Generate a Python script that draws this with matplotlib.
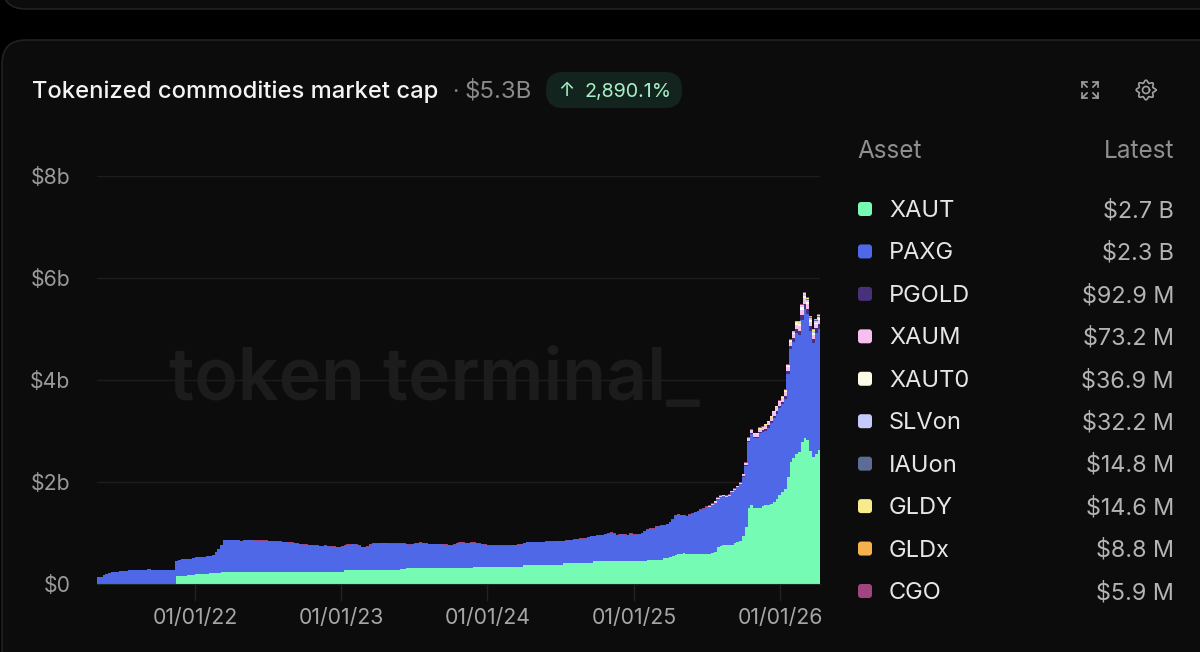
import numpy as np
import pandas as pd
import matplotlib
matplotlib.use('Agg')
import matplotlib.pyplot as plt
import matplotlib.dates as mdates
from matplotlib.patches import FancyBboxPatch

plt.rcParams['font.family'] = ['Inter', 'DejaVu Sans']

# Legend table
assets = ['XAUT', 'PAXG', 'PGOLD', 'XAUM', 'XAUT0', 'SLVon', 'IAUon', 'GLDY', 'GLDx', 'CGO']
latest = ['$2.7 B', '$2.3 B', '$92.9 M', '$73.2 M', '$36.9 M', '$32.2 M', '$14.8 M', '$14.6 M', '$8.8 M', '$5.9 M']
colors = ['#76FBB4', '#4F68E8', '#46317A', '#F6BFF0', '#FBFBE6', '#C4CBFB', '#5D6C94', '#F8EB8C', '#F6B14F', '#A04580']

# Weekly values in $b
weeks = pd.date_range('2021-05-01', periods=258, freq='7D')

total_top = [
    .13, .13, .17, .2, .22, .24, .24, .24, .25, .25,
    .25, .27, .27, .27, .27, .27, .27, .27, .29, .28,
    .27, .27, .27, .27, .27, .27, .27, .27, .46, .47,
    .5, .5, .5, .5, .51, .52, .52, .53, .53, .54,
    .55, .57, .62, .69, .76, .86, .86, .86, .86, .86,
    .86, .85, .86, .86, .86, .86, .86, .86, .86, .86,
    .86, .85, .85, .84, .84, .84, .83, .83, .82, .82,
    .81, .8, .79, .78, .78, .77, .77, .76, .76, .75,
    .75, .76, .75, .74, .74, .73, .73, .74, .76, .78,
    .78, .79, .78, .76, .73, .73, .74, .78, .8, .8,
    .81, .81, .81, .81, .8, .8, .8, .8, .8, .8,
    .79, .78, .79, .8, .81, .82, .81, .8, .79, .79,
    .79, .79, .79, .78, .78, .77, .76, .78, .81, .82,
    .82, .81, .81, .82, .82, .81, .8, .79, .78, .77,
    .765, .76, .76, .76, .76, .76, .76, .76, .77, .77,
    .78, .79, .81, .83, .83, .83, .83, .83, .83, .83,
    .84, .84, .84, .85, .85, .85, .85, .86, .87, .87,
    .88, .89, .9, .9, .91, .93, .95, .95, .96, .97,
    .97, .99, 1.0, 1.02, 1.0, .97, .98, .99, .98, .97,
    1.0, .98, .98, .99, 1.0, 1.04, 1.08, 1.09, 1.1, 1.13,
    1.14, 1.15, 1.16, 1.18, 1.22, 1.27, 1.35, 1.37, 1.36, 1.36,
    1.34, 1.37, 1.39, 1.42, 1.44, 1.47, 1.49, 1.52, 1.55, 1.58,
    1.63, 1.7, 1.745, 1.75, 1.74, 1.76, 1.83, 1.88, 1.93, 2.0,
    2.16, 2.39, 2.88, 3.04, 2.97, 2.97, 3.07, 3.1, 3.14, 3.2,
    3.3, 3.4, 3.5, 3.6, 3.69, 3.82, 4.31, 4.8, 4.97, 5.16,
    5.16, 5.49, 5.72, 5.62, 5.26, 5.0, 5.2, 5.29,
]

xaut = (
    [0] * 28 + [.15, .15, .16, .16, .17, .175, .18, .19, .19, .2, .2, .2]
    + [.21, .21, .21, .22, .23, .23, .23, .23, .23, .23]
    + [.23] * 38 + [.275] * 20 + [.295, .3, .31, .31] + [.31] * 22
    + [.34, .34, .33, .34] + [.34] * 14 + [.37] * 14 + [.41] * 11 + [.445] * 19
    + [.48] * 6 + [.51, .51, .52, .55, .57]
    + [.58, .59, .6, .58, .59, .59, .59, .59, .59, .59, .59, .59, .6]
    + [.62, .72, .75, .765, .765, .765, .765, .8, .82, .84]
    + [.95, 1.11, 1.5, 1.54, 1.49, 1.49, 1.5, 1.52, 1.54, 1.55]
    + [1.57, 1.6, 1.67, 1.745, 1.8, 1.86, 2.09, 2.39, 2.48, 2.55]
    + [2.58, 2.78, 2.86, 2.83, 2.61, 2.5, 2.55, 2.63]
)

# smaller assets, only the last weeks are listed
pgold = [.01, .01, .02, .03, .03, .03, .03, .03, .04, .04, .04, .04, .05, .05,
         .05, .06, .07, .07, .08, .08, .09, .1, .11, .1, .09, .08, .09, .093]
xaum = [.02] * 11 + [.03, .04, .05] + [.06] * 6 + [.07] * 7 + [.08] * 5 + [.09, .1, .1, .09, .08, .07, .07, .073]
xaut0 = [.005, .01, .01, .01, .015, .02, .02, .02, .025, .03, .04, .05, .05, .05, .04, .04, .035, .037]
slvon = [.01, .01, .02, .02, .03, .04, .04, .035, .03, .032]
iauon = [.005, .01, .01, .015, .015, .015, .015, .015]
gldy = [.01] * 12 + [.015] * 12
gldx = [.005] * 6 + [.01] * 10
cgo = [.012] * 190 + [.01] * 6 + [.006] * 6


def pad(tail):
    return np.r_[np.zeros(len(weeks) - len(tail)), tail]


small = [pad(pgold), pad(xaum), pad(xaut0), pad(slvon), pad(iauon), pad(gldy), pad(gldx), pad(cgo)]
paxg = np.array(total_top) - np.array(xaut) - np.sum(small, axis=0)
series = [np.array(xaut, dtype=float), paxg] + small

fig = plt.figure(figsize=(12, 6.52), dpi=100, facecolor='#000000')

# page furniture, in pixels
bg = fig.add_axes([0, 0, 1, 1], zorder=0)
bg.set_xlim(0, 1200)
bg.set_ylim(652, 0)
bg.axis('off')
for y0, y1 in [(-80, 9), (40, 760)]:
    bg.add_patch(FancyBboxPatch((2, y0), 1260, y1 - y0, boxstyle='round,pad=0,rounding_size=24',
                                fc='#0c0c0c', ec='#222222', lw=1.2))
bg.set_xlim(0, 1200)
bg.set_ylim(652, 0)

bg.text(32, 91.5, 'Tokenized commodities market cap', color='#f4f4f4', fontsize=17.1, va='center', fontweight='medium')
bg.text(452, 91.5, '·', color='#8a8a8a', fontsize=16, va='center')
bg.text(464, 91.5, '$5.3B', color='#8a8a8a', fontsize=17.3, va='center')
bg.add_patch(FancyBboxPatch((546, 72), 136, 36, boxstyle='round,pad=0,rounding_size=17',
                            fc='#12241d', ec='none'))
bg.text(558, 91, '↑', color='#a8f0c8', fontsize=14, va='center')
bg.text(585, 91.5, '2,890.1%', color='#a8f0c8', fontsize=14.2, va='center')

# expand icon
icon = '#a0a0a0'
for sx, sy in [(-1, -1), (1, -1), (-1, 1), (1, 1)]:
    cx, cy = 1090 + sx * 8, 90 + sy * 8
    bg.plot([cx, cx, cx - sx * 5], [cy - sy * 5, cy, cy], color=icon, lw=1.2)
    bg.plot([cx, cx - sx * 5], [cy, cy - sy * 5], color=icon, lw=1.2)

# gear icon
ang = np.linspace(0, 2 * np.pi, 200)
rad = 8.5 + 1.3 * np.cos(8 * ang)
bg.plot(1146 + rad * np.cos(ang), 90 + rad * np.sin(ang), color=icon, lw=1.2)
bg.plot(1146 + 3.5 * np.cos(ang), 90 + 3.5 * np.sin(ang), color=icon, lw=1.2)

# legend table
bg.text(857, 152, 'Asset', color='#8f8f8f', fontsize=17.5, va='center')
bg.text(1174, 152, 'Latest', color='#8f8f8f', fontsize=17.5, va='center', ha='right')
row_y = np.linspace(209, 591, len(assets))
for name, val, col, y in zip(assets, latest, colors, row_y):
    bg.add_patch(FancyBboxPatch((858, y - 7), 14, 14, boxstyle='round,pad=0,rounding_size=3', fc=col, ec='none'))
    bg.text(889, y + 2, name, color='#e6e6e6', fontsize=17, va='center')
    bg.text(1174, y + 2, val, color='#b4b4b4', fontsize=16.8, va='center', ha='right')

# watermark goes under the bars
bg.text(169, 381, 'token terminal_', color='#1c1c1c', fontsize=51.5, va='center', fontweight='semibold')

# chart
ax = fig.add_axes([97 / 1200, (652 - 584) / 652, (820 - 97) / 1200, (584 - 176) / 652], zorder=1)
ax.patch.set_alpha(0)
bottom = np.zeros(len(weeks))
for values, col in zip(series, colors):
    ax.bar(weeks, values, bottom=bottom, width=8, align='edge', color=col, linewidth=0)
    bottom = bottom + values

ax.set_xlim(weeks[0], weeks[-1] + pd.Timedelta(days=7))
ax.set_ylim(0, 8)
ax.set_yticks([0, 2, 4, 6, 8])
ax.set_yticklabels(['$0', '$2b', '$4b', '$6b', '$8b'])
ax.set_xticks(pd.to_datetime(['2022-01-01', '2023-01-01', '2024-01-01', '2025-01-01', '2026-01-01']))
ax.xaxis.set_major_formatter(mdates.DateFormatter('%d/%m/%y'))
ax.grid(axis='y', color='#1d1d1d', lw=1)
ax.set_axisbelow(True)
ax.tick_params(axis='y', length=0, pad=19, labelcolor='#9a9a9a', labelsize=15.3)
ax.tick_params(axis='x', length=12, width=1, color='#222222', pad=5, labelcolor='#a6a6a6', labelsize=15.3)
for name, spine in ax.spines.items():
    spine.set_visible(name == 'bottom')
ax.spines['bottom'].set_color('#1d2a24')

fig.savefig('out.png', dpi=100, facecolor=fig.get_facecolor())
